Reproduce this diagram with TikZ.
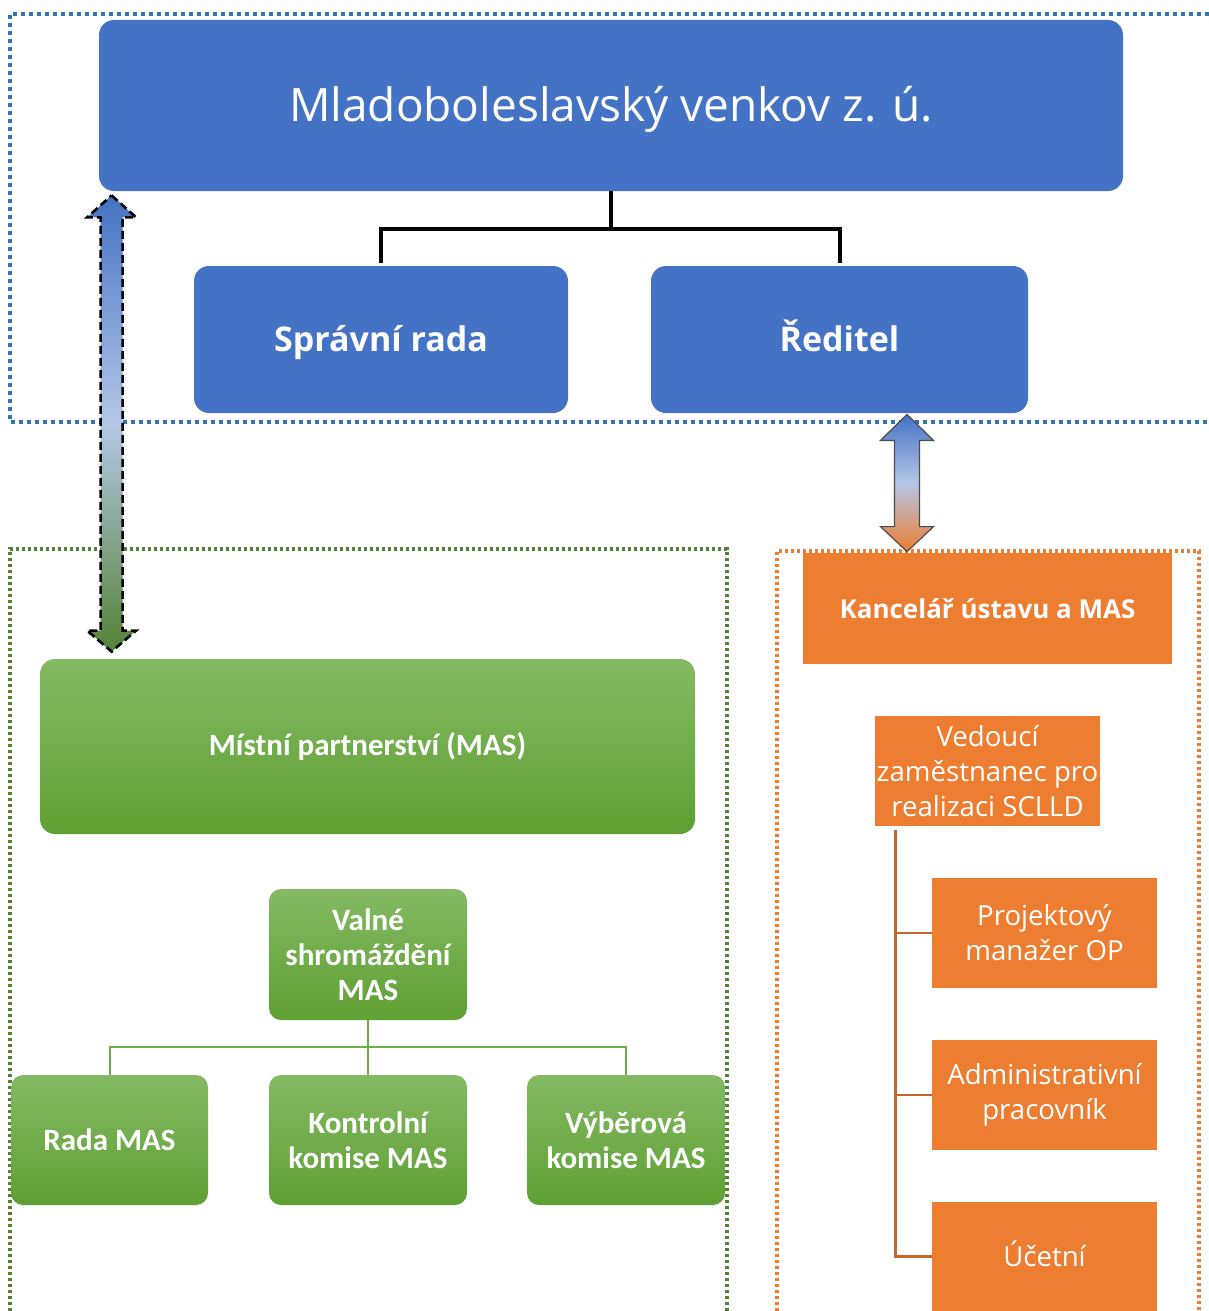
\documentclass[tikz,border=0pt]{standalone}
\usepackage{fontspec}
\setmainfont{Open Sans}
\newfontfamily\calibri{Carlito}
\usetikzlibrary{calc}
\definecolor{masblue}{HTML}{4472C4}
\definecolor{frameblue}{HTML}{2E75B6}
\definecolor{lightblue}{HTML}{B4C7E7}
\definecolor{masgreen}{HTML}{548235}
\definecolor{greentop}{HTML}{83BA63}
\definecolor{greenbot}{HTML}{5FA033}
\definecolor{greenline}{HTML}{70AD47}
\definecolor{masorange}{HTML}{ED7D31}
\definecolor{orangeline}{HTML}{C9652A}
\tikzstyle{bluebox} = [rectangle, rounded corners=7.5pt, fill=masblue, text=white, inner sep=0pt, align=center, text depth=0pt]
\tikzstyle{greenbox} = [rectangle, rounded corners=6pt, top color=greentop, bottom color=greenbot, text=white, inner sep=0pt, align=center, minimum width=99pt, minimum height=65pt, font=\calibri\bfseries\fontsize{15.5}{17.5}\selectfont]
\tikzstyle{orangebox} = [rectangle, fill=masorange, text=white, inner sep=0pt, align=center, minimum width=112.5pt, minimum height=55pt, font=\fontsize{13.8}{17.5}\selectfont]
\tikzstyle{frame} = [line width=1.6pt, dash pattern=on 2pt off 2pt]
\tikzstyle{dashedarrow} = [draw=black, line width=1.3pt, dash pattern=on 4pt off 2pt, top color=masblue, bottom color=masgreen, middle color=lightblue]
\tikzstyle{plainarrow} = [draw=black!70, line width=0.6pt, top color=masblue, bottom color=masorange, middle color=lightblue]

\begin{document}
\begin{tikzpicture}[x=0.5pt, y=-0.5pt]
    \useasboundingbox (0,0) rectangle (1209,1311);

    % frames
    \draw [frame, draw=frameblue] (1209,14) -- (10,14) -- (10,422) -- (1209,422);
    \draw [frame, draw=masgreen, line width=1.8pt, dash pattern=on 1.6pt off 1.4pt] (10,1311) -- (10,549) -- (727,549) -- (727,1311);
    \draw [frame, draw=masorange, line width=1.8pt, dash pattern=on 1.6pt off 1.4pt] (777,1311) -- (777,551) -- (1199,551) -- (1199,1311);

    % blue part
    \node [bluebox, minimum width=512pt, minimum height=85.5pt, text height=16.4pt, font=\fontsize{23}{28}\selectfont] at (611,105.5) (main) {Mladoboleslavský venkov z. ú.};
    \node [bluebox, minimum width=187pt, minimum height=73.5pt, text height=12.1pt, font=\bfseries\fontsize{17}{20}\selectfont] at (381,339.5) (sprava) {Správní rada};
    \node [bluebox, minimum width=188.5pt, minimum height=73.5pt, text height=12.1pt, font=\bfseries\fontsize{17}{20}\selectfont] at (839.5,339.5) (reditel) {Ředitel};

    % green part
    \node [greenbox, rounded corners=7.5pt, minimum width=327.5pt, minimum height=87.5pt, font=\calibri\bfseries\fontsize{15.5}{17.5}\selectfont] at (367.5,746.5) (mistni) {Místní partnerství (MAS)};
    \node [greenbox, minimum height=65.5pt] at (368,954.5) (valne) {Valné\\shromáždění\\MAS};
    \node [greenbox, minimum width=98.5pt] at (109.5,1140) (rada) {Rada MAS};
    \node [greenbox] at (368,1140) (kontrolni) {Kontrolní\\komise MAS};
    \node [greenbox] at (626,1140) (vyberova) {Výběrová\\komise MAS};

    % orange part
    \node [orangebox, minimum width=184.5pt, minimum height=55.5pt, font=\bfseries\fontsize{13}{16}\selectfont] at (987.5,608.5) (kancelar) {Kancelář ústavu a MAS};
    \node [orangebox] at (987.5,771) (vedouci) {Vedoucí\\zaměstnanec pro\\realizaci SCLLD};
    \node [orangebox] at (1044.5,933) (projekt) {Projektový\\manažer OP};
    \node [orangebox] at (1044.5,1095) (admin) {Administrativní\\pracovník};
    \node [orangebox, minimum height=54.5pt, text height=9.9pt, text depth=0pt] at (1044.5,1256.5) (ucetni) {Účetní};

    % connectors
    \draw [line width=2pt] (main.south) -- ++(0,38) -| ([yshift=1.5pt]sprava.north);
    \draw [line width=2pt] (main.south) -- ++(0,38) -| ([yshift=1.5pt]reditel.north);
    \draw [greenline, line width=1pt] (valne.south) -- ++(0,27) -| (rada.north);
    \draw [greenline, line width=1pt] (valne.south) -- ++(0,27) -| (kontrolni.north);
    \draw [greenline, line width=1pt] (valne.south) -- ++(0,27) -| (vyberova.north);
    \draw [orangeline, line width=1.3pt] ([xshift=10.5pt,yshift=-2pt]vedouci.south west) |- (projekt.west);
    \draw [orangeline, line width=1.3pt] ([xshift=10.5pt,yshift=-2pt]vedouci.south west) |- (admin.west);
    \draw [orangeline, line width=1.3pt] ([xshift=10.5pt,yshift=-2pt]vedouci.south west) |- (ucetni.west);

    % double arrows
    \coordinate (lup) at ([xshift=6.5pt,yshift=-2pt]main.south west);
    \coordinate (ldn) at ([xshift=36pt,yshift=3.5pt]mistni.north west);
    \coordinate (rup) at ([xshift=33.75pt,yshift=-0.5pt]reditel.south);
    \coordinate (rdn) at ([xshift=-40.25pt,yshift=0.5pt]kancelar.north);
    \path [dashedarrow] let \p1=(lup), \p2=(ldn) in
        (\x1,\y1) -- ({\x1+12.25pt},{\y1-11pt}) -- ({\x1+5.5pt},{\y1-11pt}) -- ({\x1+5.5pt},{\y2+10.5pt})
        -- ({\x1+12.25pt},{\y2+10.5pt}) -- (\x2,\y2) -- ({\x1-12.25pt},{\y2+10.5pt}) -- ({\x1-5.5pt},{\y2+10.5pt})
        -- ({\x1-5.5pt},{\y1-11pt}) -- ({\x1-12.25pt},{\y1-11pt}) -- cycle;
    \path [plainarrow] let \p1=(rup), \p2=(rdn) in
        (\x1,\y1) -- ({\x1+13.25pt},{\y1-13pt}) -- ({\x1+6.25pt},{\y1-13pt}) -- ({\x1+6.25pt},{\y2+12.5pt})
        -- ({\x1+13.25pt},{\y2+12.5pt}) -- (\x2,\y2) -- ({\x1-13.25pt},{\y2+12.5pt}) -- ({\x1-6.25pt},{\y2+12.5pt})
        -- ({\x1-6.25pt},{\y1-13pt}) -- ({\x1-13.25pt},{\y1-13pt}) -- cycle;
\end{tikzpicture}
\end{document}
